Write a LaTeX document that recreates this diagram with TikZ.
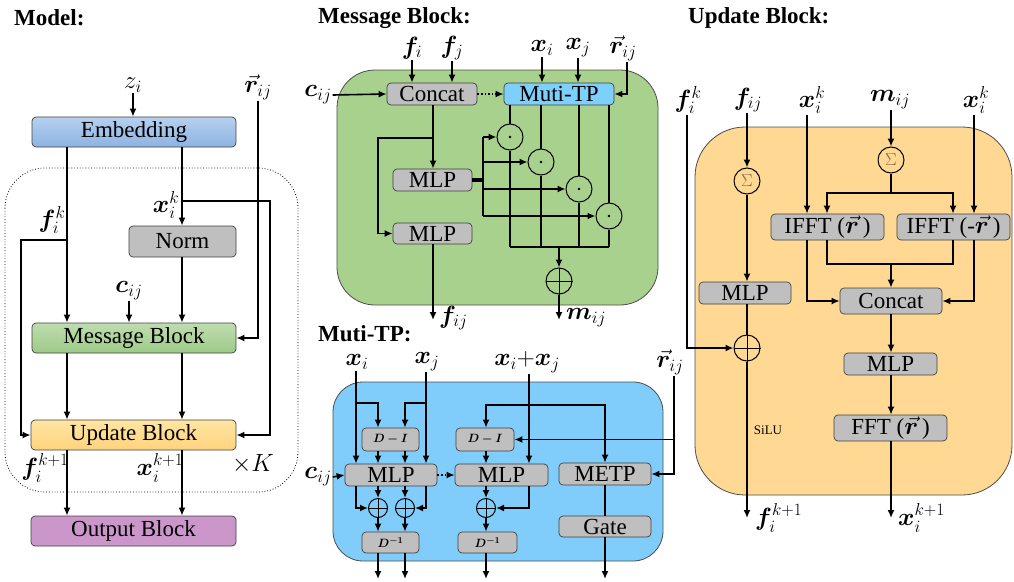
\documentclass[tikz,border=0pt]{standalone}
\usepackage{fontspec}
\setmainfont{Liberation Serif}
\usepackage{amsmath}
\usepackage{bm}
\usetikzlibrary{arrows.meta,calc}
\definecolor{boxgray}{HTML}{BFBFBF}
\definecolor{msggreen}{HTML}{A9D18E}
\definecolor{tpblue}{HTML}{80CDFC}
\definecolor{mtpblue}{HTML}{7DD0FC}
\definecolor{updorange}{HTML}{FFD993}
\definecolor{embtop}{HTML}{B6D0EE}
\definecolor{embbot}{HTML}{8DB3E2}
\definecolor{msgtop}{HTML}{BFDDAF}
\definecolor{msgbot}{HTML}{9DCA88}
\definecolor{updtop}{HTML}{FFE5A3}
\definecolor{updbot}{HTML}{FFD37E}
\definecolor{outfill}{HTML}{CB97CB}
\definecolor{sigbrown}{HTML}{7F6A3A}
\newcommand\myfs{\fontsize{23}{27}\selectfont}
\newcommand\mysmall{\fontsize{13}{14}\selectfont}
\tikzset{
  ln/.style={line width=1.6pt},
  arr/.style={line width=1.6pt,-{Latex[length=8pt,width=7pt]}},
  mbox/.style={draw=black!75,line width=0.7pt,rounded corners=4pt,inner sep=0pt,font=\myfs},
  gbox/.style={mbox,fill=boxgray},
  sbox/.style={draw=black!75,line width=0.7pt,rounded corners=4pt,inner sep=0pt,fill=boxgray,font=\mysmall},
  lab/.style={inner sep=1pt,font=\myfs},
  ttl/.style={inner sep=0pt,font=\myfs\bfseries,anchor=west},
  panel/.style={draw=black!70,line width=0.8pt},
  opc/.style={circle,draw,line width=1pt,inner sep=0pt},
  sig/.style={circle,draw,line width=1pt,inner sep=0pt,minimum size=26pt,text=sigbrown,font=\fontsize{19}{19}\selectfont},
}
\begin{document}
\begin{tikzpicture}[x=1pt,y=-1pt]
\useasboundingbox (0,0) rectangle (1014,581);

% ---------- panels ----------
\draw[dotted,line width=0.8pt,rounded corners=40pt] (5,168) rectangle (298,492);
\draw[panel,fill=msggreen,rounded corners=38pt] (337,70) rectangle (658,305);
\draw[panel,fill=tpblue,rounded corners=30pt] (333,382) rectangle (663,561);
\draw[panel,fill=updorange,rounded corners=50pt] (695,127) rectangle (1012,495);

% ---------- Model ----------
\node[ttl] (t1) at (14,18) {Model:};
\node[lab] (zi) at (133,85) {$z_i$};
\node[lab] (rm) at (258,87) {$\vec{\bm r}_{ij}$};
\node[mbox,top color=embtop,bottom color=embbot,minimum width=204pt,minimum height=30pt] (emb) at (134,132) {Embedding};
\node[gbox,minimum width=107pt,minimum height=31pt] (norm) at (182.5,241.5) {Norm};
\node[mbox,top color=msgtop,bottom color=msgbot,minimum width=204pt,minimum height=30pt] (msg) at (134,338) {Message Block};
\node[mbox,top color=updtop,bottom color=updbot,minimum width=205pt,minimum height=30pt] (upd) at (133.5,435) {Update Block};
\node[mbox,fill=outfill,minimum width=205pt,minimum height=30pt] (out) at (133.5,531) {Output Block};
\node[lab] (fk) at (52,220) {$\bm{f}_i^k$};
\node[lab] (xk) at (166,205) {$\bm{x}_i^k$};
\node[lab] (cm) at (129,291) {$\bm{c}_{ij}$};
\node[lab] (fk1) at (45,468) {$\bm{f}_i^{k+1}$};
\node[lab] (xk1) at (160,468) {$\bm{x}_i^{k+1}$};
\node[lab] (K) at (253,464) {$\times K$};

\coordinate (fx) at (67,0);
\coordinate (xx) at (182,0);
\coordinate (fb) at (67,240);
\coordinate (fl) at (21,240);
\coordinate (xb) at (182,201);
\coordinate (xr) at (270,201);
\draw[arr] (zi.south) -- (emb.north -| zi);
\draw[arr] (emb.south -| fx) -- (msg.north -| fx);
\draw[arr] (fb) -- (fl) |- (upd.west);
\draw[arr] (emb.south -| xx) -- (norm.north -| xx);
\draw[arr] (xb) -- (xr) |- (upd.east);
\draw[arr] (norm.south -| xx) -- (msg.north -| xx);
\draw[arr] (cm.south) -- (msg.north -| cm);
\draw[arr] (rm.south) |- (msg.east);
\draw[arr] (msg.south -| fx) -- (upd.north -| fx);
\draw[arr] (msg.south -| xx) -- (upd.north -| xx);
\draw[arr] (upd.south -| fx) -- (out.north -| fx);
\draw[arr] (upd.south -| xx) -- (out.north -| xx);

% ---------- Message Block ----------
\node[ttl] (t2) at (318,18) {Message Block:};
\node[lab] (mfi) at (412,48) {$\bm{f}_i$};
\node[lab] (mfj) at (452,48) {$\bm{f}_j$};
\node[lab] (mxi) at (542,48) {$\bm{x}_i$};
\node[lab] (mxj) at (578,48) {$\bm{x}_j$};
\node[lab] (mr) at (623,48) {$\vec{\bm r}_{ij}$};
\node[lab] (mc) at (318,95) {$\bm{c}_{ij}$};
\node[gbox,minimum width=90pt,minimum height=22pt] (concat) at (432,94) {Concat};
\node[mbox,fill=mtpblue,minimum width=110pt,minimum height=22pt] (mtp) at (559,94) {Muti-TP};
\node[gbox,minimum width=79pt,minimum height=22pt] (mlp1) at (432.5,180) {MLP};
\node[gbox,minimum width=79pt,minimum height=21pt] (mlp2) at (432.5,233.5) {MLP};
\node[opc,minimum size=26pt] (c1) at (510,137) {};
\node[opc,minimum size=26pt] (c2) at (541,162) {};
\node[opc,minimum size=26pt] (c3) at (579,189) {};
\node[opc,minimum size=26pt] (c4) at (609,216) {};
\foreach \c in {c1,c2,c3,c4} {\fill (\c) circle (1.3pt);}
\node[opc,minimum size=26pt] (msum) at (559,281) {};
\draw[line width=1pt] (msum.north) -- (msum.south) (msum.west) -- (msum.east);

\coordinate (mrx) at (627,0);
\coordinate (cx) at (433,0);
\coordinate (cb) at (433,138);
\coordinate (cl) at (378,138);
\coordinate (fijend) at (433,320);
\coordinate (vt) at (483,137);
\coordinate (vb) at (483,216);
\coordinate (mbot) at (0,247);
\coordinate (mend) at (559,320);
\draw[arr] (mfi.south) -- (concat.north -| mfi);
\draw[arr] (mfj.south) -- (concat.north -| mfj);
\draw[arr] (mxi.south) -- (mtp.north -| mxi);
\draw[arr] (mxj.south) -- (mtp.north -| mxj);
\draw[arr] (mr.south -| mrx) |- (mtp.east);
\draw[arr] (mc.east) -- (concat.west);
\draw[arr,dotted] (concat.east) -- (mtp.west);
\draw[arr] (concat.south -| cx) -- (mlp1.north -| cx);
\draw[arr] (cb) -- (cl) |- (mlp2.west);
\draw[arr] (mlp2.south -| cx) -- (fijend);
\node[lab,anchor=west] (mfij) at (438,318) {$\bm{f}_{ij}$};
\draw[line width=3.5pt] (mlp1.east) -- (mlp1.east -| vt);
\draw[ln] (vt) -- (vb);
\draw[arr] (vt) -- (c1.west);
\draw[arr] (vt |- c2) -- (c2.west);
\draw[arr] (vt |- c3) -- (c3.west);
\draw[arr] (vb) -- (c4.west);
\foreach \c in {c1,c2,c3,c4} {
  \draw[ln] (mtp.south -| \c) -- (\c.north);
  \draw[ln] (\c.south) -- (\c |- mbot);
}
\draw[ln] (c1 |- mbot) -- (c4 |- mbot);
\draw[line width=2.4pt,-{Latex[length=8pt,width=7pt]}] (msum |- mbot) -- (msum.north);
\draw[arr] (msum.south) -- (mend);
\node[lab,anchor=west] (mmij) at (565,318) {$\bm{m}_{ij}$};

% ---------- Muti-TP ----------
\node[ttl] (t3) at (318,334) {Muti-TP:};
\node[lab] (txi) at (357,362) {$\bm{x}_i$};
\node[lab] (txj) at (427,362) {$\bm{x}_j$};
\node[lab] (txx) at (527,362) {$\bm{x}_i{+}\bm{x}_j$};
\node[lab] (tr) at (670,362) {$\vec{\bm r}_{ij}$};
\node[lab] (tc) at (318,477) {$\bm{c}_{ij}$};
\node[sbox,minimum width=57pt,minimum height=23pt] (di1) at (390.5,439.5) {$\bm{D-I}$};
\node[gbox,minimum width=92pt,minimum height=22pt] (mlpa) at (391,475) {MLP};
\node[opc,minimum size=19pt] (pa1) at (378,508) {};
\node[opc,minimum size=19pt] (pa2) at (405,508) {};
\node[sbox,minimum width=57pt,minimum height=21pt] (dinv1) at (390.5,542.5) {$\bm{D^{-1}}$};
\node[sbox,minimum width=58pt,minimum height=23pt] (di2) at (485,439.5) {$\bm{D-I}$};
\node[gbox,minimum width=93pt,minimum height=22pt] (mlpb) at (501.5,475) {MLP};
\node[opc,minimum size=19pt] (pb) at (486,508) {};
\node[sbox,minimum width=59pt,minimum height=21pt] (dinv2) at (487.5,542.5) {$\bm{D^{-1}}$};
\node[gbox,minimum width=92pt,minimum height=22pt] (metp) at (605,474) {METP};
\node[gbox,minimum width=92pt,minimum height=21pt] (gate) at (605,526.5) {Gate};
\foreach \p in {pa1,pa2,pb} {\draw[line width=1pt] (\p.north) -- (\p.south) (\p.west) -- (\p.east);}

\coordinate (a1) at (356,0);
\coordinate (a2) at (378,0);
\coordinate (a3) at (405,0);
\coordinate (a4) at (426,0);
\coordinate (b1) at (486,0);
\coordinate (b2) at (529,0);
\coordinate (mm) at (605,0);
\coordinate (rr) at (674,0);
\coordinate (ta) at (0,403);
\coordinate (tb) at (0,405);
\coordinate (tbot) at (0,579);
\draw[arr] (txi.south -| a1) -- (mlpa.north -| a1);
\draw[arr] (a1 |- ta) -| (di1.north -| a2);
\draw[arr] (txj.south -| a4) -- (mlpa.north -| a4);
\draw[arr] (a4 |- ta) -| (di1.north -| a3);
\draw[arr] (di1.south -| a2) -- (mlpa.north -| a2);
\draw[arr] (di1.south -| a3) -- (mlpa.north -| a3);
\draw[arr] (mlpa.south -| a1) |- (pa1.west);
\draw[arr] (mlpa.south -| a2) -- (pa1.north);
\draw[arr] (mlpa.south -| a3) -- (pa2.north);
\draw[arr] (mlpa.south -| a4) |- (pa2.east);
\draw[arr] (pa1.south) -- (dinv1.north -| pa1);
\draw[arr] (pa2.south) -- (dinv1.north -| pa2);
\draw[arr] (dinv1.south -| a2) -- (a2 |- tbot);
\draw[arr] (dinv1.south -| a3) -- (a3 |- tbot);
\draw[arr] (tc.east) -- (mlpa.west);
\draw[arr,dotted] (mlpa.east) -- (mlpb.west);
\draw[arr] (txx.south -| b2) -- (mlpb.north -| b2);
\draw[arr] (b2 |- tb) -| (di2.north -| b1);
\draw[arr] (b2 |- tb) -| (metp.north -| mm);
\draw[arr] (tr.south -| rr) |- (metp.east);
\draw[arr] (rr |- di2) -- (di2.east);
\draw[arr] (di2.south -| b1) -- (mlpb.north -| b1);
\draw[arr] (mlpb.south -| b1) -- (pb.north);
\draw[arr] (mlpb.south -| b2) |- (pb.east);
\draw[arr] (pb.south) -- (dinv2.north -| pb);
\draw[arr] (dinv2.south -| b1) -- (b1 |- tbot);
\draw[ln] (metp.south) -- (gate.north);
\draw[arr] (gate.south) -- (gate |- tbot);

% ---------- Update Block ----------
\node[ttl] (t4) at (688,18) {Update Block:};
\node[lab] (ufk) at (688,100) {$\bm{f}_i^k$};
\node[lab] (ufij) at (748,100) {$\bm{f}_{ij}$};
\node[lab] (uxk1) at (812,100) {$\bm{x}_i^k$};
\node[lab] (umij) at (890,100) {$\bm{m}_{ij}$};
\node[lab] (uxk2) at (976,100) {$\bm{x}_i^k$};
\node[sig] (s1) at (747,181) {$\Sigma$};
\node[sig] (s2) at (891,160) {$\Sigma$};
\node[gbox,minimum width=92pt,minimum height=22pt] (mlpu) at (745,293) {MLP};
\node[opc,minimum size=26pt] (pu) at (747,348) {};
\draw[line width=1pt] (pu.north) -- (pu.south) (pu.west) -- (pu.east);
\node[gbox,minimum width=113pt,minimum height=26pt] (ifft1) at (827.5,227) {IFFT ($\vec{\bm r}$\,)};
\node[gbox,minimum width=113pt,minimum height=26pt] (ifft2) at (953.5,227) {IFFT (-$\vec{\bm r}$\,)};
\node[gbox,minimum width=102pt,minimum height=26pt] (concatu) at (891,301) {Concat};
\node[gbox,minimum width=93pt,minimum height=22pt] (mlpu2) at (890.5,364) {MLP};
\node[gbox,minimum width=113pt,minimum height=26pt] (fft) at (890.5,428) {FFT ($\vec{\bm r}$\,)};

\coordinate (u1) at (687,0);
\coordinate (u2) at (747,0);
\coordinate (u3) at (807,0);
\coordinate (u4) at (827,0);
\coordinate (u5) at (891,0);
\coordinate (u6) at (953,0);
\coordinate (u7) at (974,0);
\coordinate (urow1) at (0,193);
\coordinate (urow2) at (0,264);
\coordinate (uend) at (0,518);
\draw[arr] (ufk.south -| u1) |- (pu.west);
\draw[arr] (ufij.south -| u2) -- (s1.north);
\draw[arr] (s1.south) -- (mlpu.north -| s1);
\draw[ln] (mlpu.south -| pu) -- (pu.north);
\draw[arr] (pu.south) -- (pu |- uend);
\node[lab,anchor=west] (ufk1) at (754,518) {$\bm{f}_i^{k+1}$};
\node[inner sep=0pt,font=\mysmall] (silu) at (768,430) {SiLU};
\draw[arr] (uxk1.south -| u3) -- (ifft1.north -| u3);
\draw[arr] (ifft1.south -| u3) |- (concatu.west);
\draw[arr] (uxk2.south -| u7) -- (ifft2.north -| u7);
\draw[arr] (ifft2.south -| u7) |- (concatu.east);
\draw[arr] (umij.south -| u5) -- (s2.north);
\draw[ln] (s2.south) -- (u5 |- urow1);
\draw[arr] (u5 |- urow1) -| (ifft1.north -| u4);
\draw[arr] (u5 |- urow1) -| (ifft2.north -| u6);
\draw[ln] (ifft1.south -| u4) |- (u6 |- urow2) -- (ifft2.south -| u6);
\draw[arr] (u5 |- urow2) -- (concatu.north);
\draw[arr] (concatu.south) -- (mlpu2.north -| concatu);
\draw[arr] (mlpu2.south -| concatu) -- (fft.north -| concatu);
\draw[arr] (fft.south -| concatu) -- (concatu |- uend);
\node[lab,anchor=west] (uxk1b) at (897,518) {$\bm{x}_i^{k+1}$};
\end{tikzpicture}
\end{document}
